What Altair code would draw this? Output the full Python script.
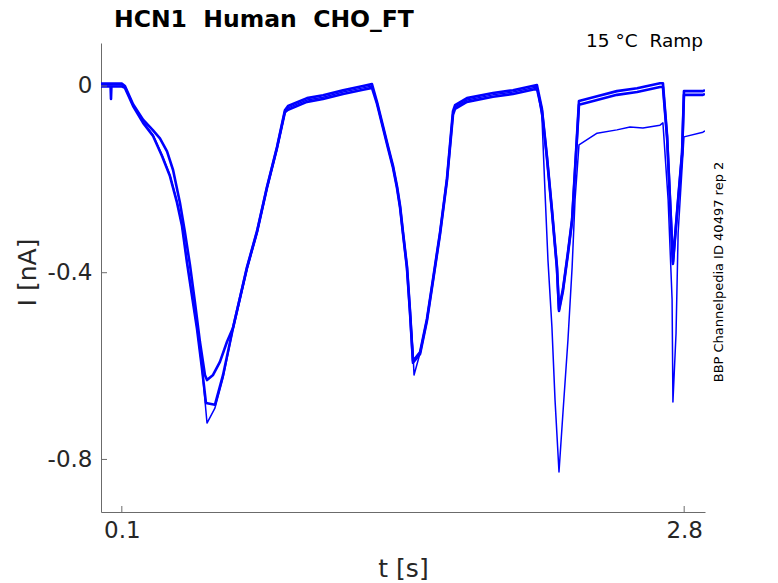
import altair as alt
import pandas as pd

# ---- data ----
t_A = [0, 0.101, 0.115, 0.154, 0.202, 0.250, 0.283, 0.317, 0.346, 0.379, 0.403, 0.427, 0.451, 0.475, 0.499, 0.509,
       0.538, 0.571, 0.605, 0.634, 0.701, 0.749, 0.797, 0.845, 0.883, 0.898, 0.989, 1.066, 1.162, 1.258, 1.301,
       1.325, 1.354, 1.378, 1.402, 1.421, 1.436, 1.450, 1.469, 1.484, 1.498, 1.532, 1.565, 1.594, 1.628, 1.661,
       1.690, 1.700, 1.757, 1.882, 1.978, 2.093, 2.117, 2.141, 2.165, 2.189, 2.199, 2.218, 2.242, 2.262, 2.295,
       2.382, 2.477, 2.574, 2.684, 2.698, 2.718, 2.746, 2.771, 2.790, 2.799, 2.890, 2.900]
I_A = [0.005, 0.005, 0.0, -0.039, -0.072, -0.095, -0.112, -0.140, -0.180, -0.250, -0.313, -0.383, -0.463, -0.548,
       -0.619, -0.630, -0.619, -0.591, -0.548, -0.518, -0.388, -0.311, -0.216, -0.131, -0.052, -0.043, -0.026,
       -0.020, -0.009, 0.0, 0.004, -0.034, -0.086, -0.129, -0.171, -0.214, -0.257, -0.313, -0.386, -0.484, -0.589,
       -0.570, -0.499, -0.414, -0.313, -0.199, -0.054, -0.041, -0.026, -0.015, -0.009, 0.002, -0.049, -0.150,
       -0.264, -0.386, -0.478, -0.435, -0.356, -0.285, -0.032, -0.022, -0.011, -0.005, 0.006, 0.006, -0.107,
       -0.377, -0.242, -0.142, -0.011, -0.011, -0.009]

t_B = [0, 0.046, 0.048, 0.050, 0.101, 0.115, 0.154, 0.202, 0.250, 0.293, 0.331, 0.365, 0.389, 0.413, 0.437, 0.461,
       0.485, 0.504, 0.547, 0.586, 0.634, 0.701, 0.749, 0.797, 0.845, 0.883, 0.898, 0.989, 1.066, 1.162, 1.258,
       1.301, 1.325, 1.354, 1.378, 1.402, 1.421, 1.436, 1.450, 1.469, 1.484, 1.498, 1.532, 1.565, 1.594, 1.628,
       1.661, 1.690, 1.700, 1.757, 1.882, 1.978, 2.093, 2.117, 2.141, 2.165, 2.189, 2.199, 2.218, 2.242, 2.262,
       2.295, 2.382, 2.477, 2.574, 2.684, 2.698, 2.718, 2.746, 2.771, 2.790, 2.799, 2.890, 2.900]
I_B = [-0.001, -0.001, -0.028, -0.001, -0.001, -0.004, -0.043, -0.079, -0.107, -0.150, -0.193, -0.250, -0.300,
       -0.379, -0.450, -0.520, -0.606, -0.679, -0.683, -0.619, -0.518, -0.390, -0.313, -0.218, -0.133, -0.056,
       -0.051, -0.034, -0.028, -0.017, -0.008, -0.004, -0.038, -0.090, -0.133, -0.175, -0.218, -0.261, -0.317,
       -0.390, -0.488, -0.593, -0.574, -0.503, -0.418, -0.317, -0.203, -0.062, -0.049, -0.034, -0.023, -0.017,
       -0.006, -0.053, -0.154, -0.268, -0.390, -0.482, -0.439, -0.360, -0.289, -0.040, -0.030, -0.019, -0.013,
       -0.002, -0.002, -0.111, -0.381, -0.246, -0.146, -0.019, -0.019, -0.017]

t_C = [0, 0.101, 0.115, 0.154, 0.202, 0.250, 0.293, 0.331, 0.365, 0.389, 0.413, 0.437, 0.461, 0.485, 0.509, 0.547,
       0.586, 0.634, 0.701, 0.749, 0.797, 0.845, 0.883, 0.898, 0.989, 1.066, 1.162, 1.258, 1.301, 1.325, 1.354,
       1.378, 1.402, 1.421, 1.436, 1.450, 1.469, 1.484, 1.498, 1.503, 1.532, 1.565, 1.594, 1.628, 1.661, 1.690,
       1.700, 1.757, 1.882, 1.978, 2.093, 2.117, 2.132, 2.146, 2.165, 2.180, 2.199, 2.218, 2.242, 2.262, 2.276,
       2.295, 2.382, 2.477, 2.540, 2.602, 2.684, 2.698, 2.723, 2.742, 2.746, 2.761, 2.771, 2.799, 2.890, 2.900]
I_C = [0.002, 0.002, -0.002, -0.041, -0.077, -0.105, -0.148, -0.191, -0.248, -0.298, -0.377, -0.448, -0.518,
       -0.604, -0.722, -0.690, -0.625, -0.520, -0.392, -0.315, -0.220, -0.135, -0.058, -0.047, -0.030, -0.024,
       -0.013, -0.004, 0.0, -0.036, -0.088, -0.131, -0.173, -0.216, -0.259, -0.315, -0.388, -0.486, -0.572,
       -0.619, -0.572, -0.501, -0.416, -0.315, -0.201, -0.058, -0.045, -0.030, -0.019, -0.013, -0.002, -0.066,
       -0.229, -0.373, -0.516, -0.673, -0.827, -0.700, -0.544, -0.388, -0.244, -0.126, -0.101, -0.094, -0.088,
       -0.090, -0.084, -0.079, -0.244, -0.458, -0.677, -0.529, -0.315, -0.109, -0.099, -0.096]

x_ticks = [0.1, 2.8]
y_ticks = [0, -0.4, -0.8]
NB = "\u00a0"
title_text = "HCN1" + NB * 2 + "Human" + NB * 2 + "CHO_FT"
cond_text = "15 °C" + NB * 2 + "Ramp"
id_text = "BBP Channelpedia ID 40497 rep 2"
x_title = "t [s]"
y_title = "I [nA]"

# ---- build tables ----
rows = []
for name, ts, vs in (("A", t_A, I_A), ("B", t_B, I_B), ("C", t_C, I_C)):
    for i, (t, v) in enumerate(zip(ts, vs)):
        rows.append({"trace": name, "t": t, "I": v, "o": i})
df = pd.DataFrame(rows)

W, H = 604, 469
FONT = "DejaVu Sans"
TXT = "#262626"
AX = "#6b6b6b"

xscale = alt.Scale(domain=[0, 2.9], nice=False, zero=False)
yscale = alt.Scale(domain=[-0.9126, 0.0921], nice=False, zero=False)

X = alt.X("t:Q", scale=xscale, axis=alt.Axis(
    values=x_ticks, labelExpr="toString(datum.value)", ticks=False, grid=False,
    domainColor=AX, labelColor=TXT, labelFont=FONT, labelFontSize=23, labelPadding=7,
    title=x_title, titleFont=FONT, titleFontSize=25, titleFontWeight="normal", titleColor=TXT,
    titleX=W / 2, titleY=64, titleAlign="center", titleBaseline="alphabetic"))
Y = alt.Y("I:Q", scale=yscale, axis=alt.Axis(
    values=y_ticks, labelExpr="datum.value == 0 ? '0' : toString(datum.value)", ticks=False, grid=False,
    domainColor=AX, labelColor=TXT, labelFont=FONT, labelFontSize=23, labelPadding=9,
    title=y_title, titleFont=FONT, titleFontSize=25, titleFontWeight="normal", titleColor=TXT,
    titleAngle=270, titleX=-74, titleY=229, titleAlign="center", titleBaseline="middle"))

lines_ab = alt.Chart(df[df.trace != "C"]).mark_line(
    color="#0000ff", strokeWidth=2.6, clip=True, strokeJoin="round").encode(
    x=X, y=Y, detail="trace:N", order="o:Q")
line_c = alt.Chart(df[df.trace == "C"]).mark_line(
    color="#0000ff", strokeWidth=1.5, clip=True, strokeJoin="round").encode(
    x=X, y=Y, order="o:Q")

ytick_df = pd.DataFrame({"I": y_ticks})
xtick_df = pd.DataFrame({"t": x_ticks})
yt = alt.Chart(ytick_df).mark_rule(color=AX, strokeWidth=1).encode(y=Y, x=alt.value(0), x2=alt.value(6))
xt = alt.Chart(xtick_df).mark_rule(color=AX, strokeWidth=1).encode(x=X, y=alt.value(H), y2=alt.value(H - 6))

title_mark = alt.Chart(pd.DataFrame({"s": [title_text]})).mark_text(
    font=FONT, fontSize=23.5, fontWeight="bold", color="#000000", align="left", baseline="alphabetic"
).encode(text="s:N", x=alt.value(13), y=alt.value(-16))
cond_mark = alt.Chart(pd.DataFrame({"s": [cond_text]})).mark_text(
    font=FONT, fontSize=18.5, color="#000000", align="right", baseline="alphabetic"
).encode(text="s:N", x=alt.value(602), y=alt.value(4))
id_mark = alt.Chart(pd.DataFrame({"s": [id_text]})).mark_text(
    font=FONT, fontSize=13, color="#000000", align="center", baseline="middle", angle=270
).encode(text="s:N", x=alt.value(618), y=alt.value(229))

chart = alt.layer(lines_ab, line_c, yt, xt, title_mark, cond_mark, id_mark).properties(
    width=W, height=H,
    autosize=alt.AutoSizeParams(type="none"),
    padding={"left": 93, "top": 35, "right": 65, "bottom": 71},
    background="white",
).configure_view(stroke=None)

chart.save("out.html", embed_options={"renderer": "svg", "actions": False})
